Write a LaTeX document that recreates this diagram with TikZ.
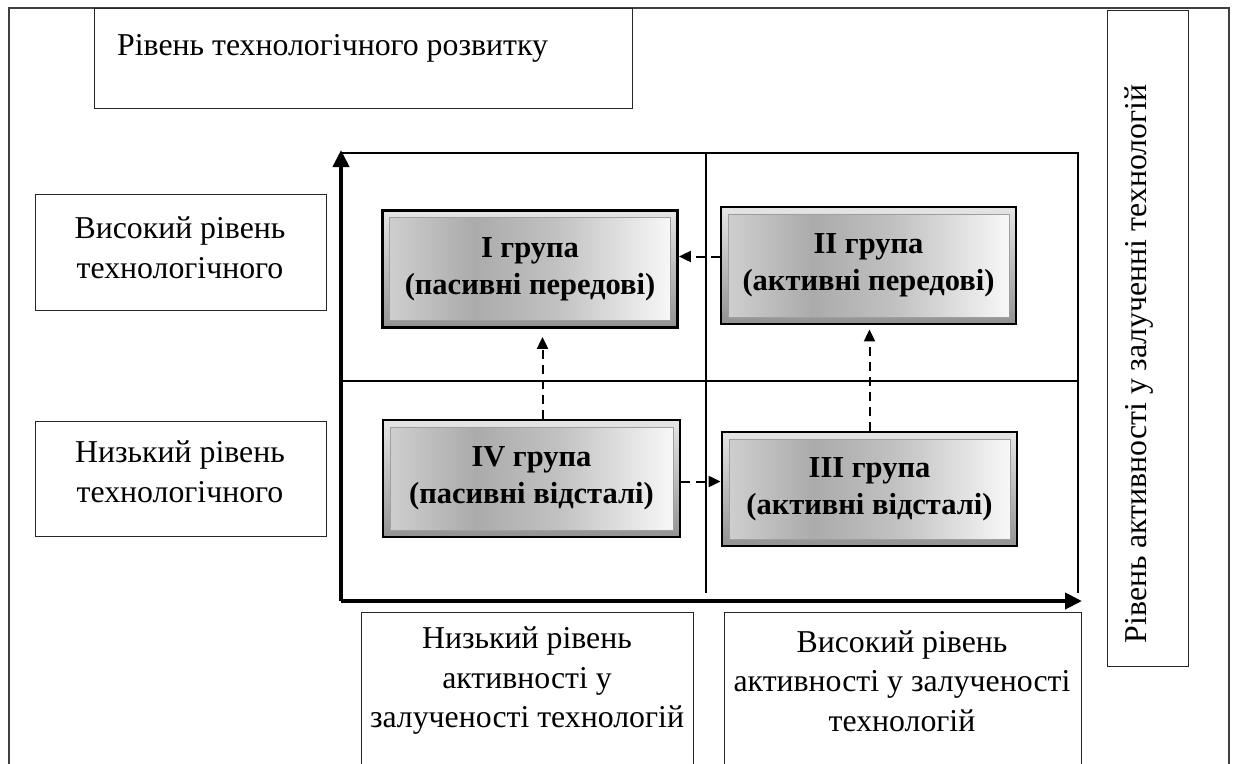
\documentclass[tikz,border=0pt]{standalone}
\usepackage{fontspec}
\setmainfont{Liberation Serif}
\usetikzlibrary{arrows.meta}
% face of the group plates: grey on the left half, fading to white on the right
\pgfdeclarehorizontalshading{plateface}{100bp}{color(0bp)=(gray!38); color(25bp)=(gray!38);
  color(40bp)=(gray!66); color(55bp)=(gray!48); color(75bp)=(gray!6); color(100bp)=(gray!6)}
\begin{document}
\begin{tikzpicture}[x=1pt,y=-1pt,
  txt/.style={font=\fontsize{31.8}{39.5}\selectfont, align=center, inner sep=0pt},
  box/.style={draw=black!85, line width=1.2pt, inner sep=0pt, anchor=north west},
  grp/.style={draw=black, line width=2.8pt, inner sep=0pt,
    minimum width=295pt, minimum height=117pt, align=center,
    font=\bfseries\fontsize{30.5}{37}\selectfont,
    path picture={
      \shade[top color=white!80!gray, bottom color=gray!85]
        (path picture bounding box.south west) rectangle (path picture bounding box.north east);
      \shadedraw[shading=plateface, draw=gray!75, line width=0.8pt]
        ([shift={(7pt,7pt)}]path picture bounding box.south west) rectangle
        ([shift={(-7pt,-7pt)}]path picture bounding box.north east);}},
  axis/.style={line width=4pt, -{Triangle[length=17pt,width=16pt]}},
  quad/.style={line width=1.5pt},
  flow/.style={line width=2pt, dash pattern=on 9pt off 6pt,
    -{Triangle[length=12pt,width=11pt]}}
]
\useasboundingbox (0,0) rectangle (1233,763);
\clip (0,0) rectangle (1233,763);

% outer frame, open below
\draw[draw=black!75, line width=1.1pt] (9,800) -- (9,8) -- (1229,8) -- (1229,800);

% title boxes
\node[box, minimum width=538pt, minimum height=100pt] (title) at (94,8) {};
\node[txt, anchor=base west] (titleT) at (117,55) {Рівень технологічного розвитку};

\node[box, minimum width=81pt, minimum height=656pt] (side) at (1107,10) {};
\node[txt, rotate=90, anchor=base] (sideT) at (1146,364) {Рівень активності у залученні технологій};

% row labels
\node[box, minimum width=291pt, minimum height=116pt] (hiTech) at (35,194) {};
\node[txt] (hiTechT) at (180,248) {Високий рівень\\технологічного};
\node[box, minimum width=291pt, minimum height=115pt] (loTech) at (35,421) {};
\node[txt] (loTechT) at (180,472) {Низький рівень\\технологічного};

% column labels
\node[box, minimum width=332pt, minimum height=200pt] (loAct) at (361,612) {};
\node[txt] (loActT) at (527,681) {Низький рівень\\активності у\\залученості технологій};
\node[box, minimum width=357pt, minimum height=200pt] (hiAct) at (724,612) {};
\node[txt] (hiActT) at (902,681) {Високий рівень\\активності у залученості\\технологій};

% quadrant grid
\draw[quad] (341,153) -- (1078,153) -- (1078,593);
\draw[quad] (706,153) -- (706,593);
\draw[quad] (341,381) -- (1078,381);

% axes
\coordinate (o) at (341,601);
\coordinate (ytop) at (341,150);
\coordinate (xend) at (1082,601);
\draw[axis] (o) -- (ytop);
\draw[axis] (o) -- (xend);

% groups
\node[grp] (g1) at (530,269) {І група\\(пасивні передові)};
\node[grp] (g2) at (868.5,265.5) {ІІ група\\(активні передові)};
\node[grp, minimum width=297pt] (g4) at (531.5,478.5) {IV група\\(пасивні відсталі)};
\node[grp, minimum height=114pt] (g3) at (869.5,489) {ІІІ група\\(активні відсталі)};

% transitions
\draw[flow] ([yshift=9pt]g2.west) -- ([yshift=9pt]g2.west -| g1.east);
\draw[flow, shorten >=8pt] ([xshift=11pt]g4.north) -- ([xshift=11pt]g4.north |- g1.south);
\draw[flow] ([yshift=-3pt]g4.east) -- ([yshift=-3pt]g4.east -| g3.west);
\draw[flow, shorten >=4pt] (g3.north) -- (g3.north |- g2.south);
\end{tikzpicture}
\end{document}
